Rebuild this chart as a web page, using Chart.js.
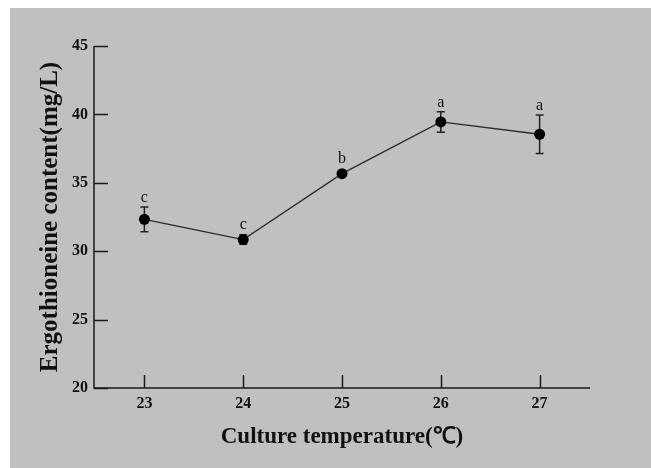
<!DOCTYPE html>
<html>
<head>
<meta charset="utf-8">
<script src="https://cdn.jsdelivr.net/npm/chart.js@4/dist/chart.umd.min.js"></script>
<style>
html,body{margin:0;padding:0;background:#ffffff;}
#wrap{width:651px;height:468px;position:relative;}
</style>
</head>
<body>
<div id="wrap"><canvas id="c" width="651" height="468"></canvas></div>
<script>
const temperatures = [23, 24, 25, 26, 27];
const ergoMeans = [32.33, 30.85, 35.67, 39.45, 38.55];
const ergoSD = [0.9, 0.35, 0.2, 0.75, 1.4];
const sigLetters = ['c', 'c', 'b', 'a', 'a'];
const yTicks = [20, 25, 30, 35, 40, 45];
const xTicks = [23, 24, 25, 26, 27];

const bgPlugin = {
  id: 'bg',
  beforeDraw(chart) {
    const ctx = chart.ctx;
    ctx.save();
    ctx.fillStyle = '#ffffff';
    ctx.fillRect(0, 0, chart.width, chart.height);
    ctx.fillStyle = '#c0c0c0';
    ctx.fillRect(10, 8, chart.width - 10, chart.height - 8);
    ctx.restore();
  }
};

const axesPlugin = {
  id: 'innerTicks',
  afterDraw(chart) {
    const ctx = chart.ctx;
    const xs = chart.scales.x, ys = chart.scales.y;
    const a = chart.chartArea;
    ctx.save();
    ctx.strokeStyle = '#1a1a1a';
    ctx.lineWidth = 1.5;
    ctx.beginPath();
    ctx.moveTo(a.left, a.top);
    ctx.lineTo(a.left, a.bottom);
    ctx.lineTo(a.right, a.bottom);
    ctx.stroke();
    ctx.beginPath();
    yTicks.forEach(v => {
      const y = Math.round(ys.getPixelForValue(v)) + 0.5;
      ctx.moveTo(a.left, y);
      ctx.lineTo(a.left + 14, y);
    });
    xTicks.forEach(v => {
      const x = Math.round(xs.getPixelForValue(v)) + 0.5;
      ctx.moveTo(x, a.bottom);
      ctx.lineTo(x, a.bottom - 13);
    });
    ctx.stroke();
    ctx.restore();
  }
};

const errPlugin = {
  id: 'errbars',
  beforeDatasetsDraw(chart) {
    const ctx = chart.ctx;
    const xs = chart.scales.x, ys = chart.scales.y;
    ctx.save();
    ctx.strokeStyle = '#222222';
    ctx.lineWidth = 1.5;
    temperatures.forEach((t, i) => {
      const x = xs.getPixelForValue(t);
      const yt = ys.getPixelForValue(ergoMeans[i] + ergoSD[i]);
      const yb = ys.getPixelForValue(ergoMeans[i] - ergoSD[i]);
      ctx.beginPath();
      ctx.moveTo(x, yt); ctx.lineTo(x, yb);
      ctx.moveTo(x - 4, yt); ctx.lineTo(x + 4, yt);
      ctx.moveTo(x - 4, yb); ctx.lineTo(x + 4, yb);
      ctx.stroke();
    });
    ctx.restore();
  },
  afterDatasetsDraw(chart) {
    const ctx = chart.ctx;
    const xs = chart.scales.x, ys = chart.scales.y;
    ctx.save();
    ctx.fillStyle = '#111111';
    ctx.font = '16px "Liberation Serif", "Times New Roman", serif';
    ctx.textAlign = 'center';
    ctx.textBaseline = 'alphabetic';
    temperatures.forEach((t, i) => {
      const x = xs.getPixelForValue(t);
      const yTop = Math.min(ys.getPixelForValue(ergoMeans[i] + ergoSD[i]), ys.getPixelForValue(ergoMeans[i]) - 5.5);
      ctx.fillText(sigLetters[i], x, yTop - 5);
    });
    ctx.restore();
  }
};

new Chart(document.getElementById('c'), {
  type: 'line',
  data: {
    datasets: [{
      data: temperatures.map((t, i) => ({x: t, y: ergoMeans[i]})),
      borderColor: '#2a2a2a',
      borderWidth: 1.3,
      pointRadius: 5.5,
      pointBackgroundColor: '#000000',
      pointBorderColor: '#000000',
      pointBorderWidth: 0,
      tension: 0,
      fill: false
    }]
  },
  options: {
    responsive: false,
    animation: false,
    devicePixelRatio: 1,
    layout: {padding: {left: 10, top: 46, right: 61, bottom: 0}},
    plugins: {legend: {display: false}, tooltip: {enabled: false}},
    scales: {
      x: {
        type: 'linear',
        min: 22.49, max: 27.51,
        afterBuildTicks(scale) { scale.ticks = xTicks.map(v => ({value: v})); },
        afterFit(scale) { scale.height = 80; },
        grid: {display: false, drawTicks: false},
        border: {display: false},
        ticks: {
          padding: 6,
          color: '#111111',
          font: {family: '"Liberation Serif", "Times New Roman", serif', size: 16, weight: 'bold'}
        },
        title: {
          display: true,
          text: 'Culture temperature(℃)',
          color: '#111111',
          padding: {top: 0, bottom: 17},
          font: {family: '"Liberation Serif", "Times New Roman", serif', size: 23, weight: 'bold'}
        }
      },
      y: {
        type: 'linear',
        min: 20, max: 45,
        afterBuildTicks(scale) { scale.ticks = yTicks.map(v => ({value: v})); },
        afterFit(scale) { scale.width = 84; },
        grid: {display: false, drawTicks: false},
        border: {display: false},
        ticks: {
          padding: 6,
          color: '#111111',
          font: {family: '"Liberation Serif", "Times New Roman", serif', size: 16, weight: 'bold'}
        },
        title: {
          display: true,
          text: 'Ergothioneine content(mg/L)',
          color: '#111111',
          padding: {top: 26, bottom: 0},
          font: {family: '"Liberation Serif", "Times New Roman", serif', size: 25, weight: 'bold'}
        }
      }
    }
  },
  plugins: [bgPlugin, axesPlugin, errPlugin]
});
</script>
</body>
</html>
